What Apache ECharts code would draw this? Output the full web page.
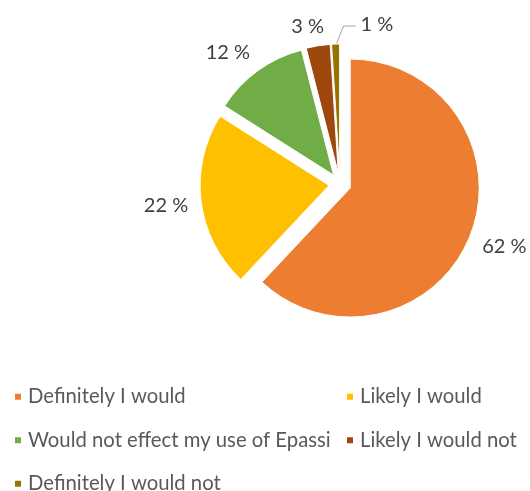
<!DOCTYPE html>
<html>
<head>
<meta charset="utf-8">
<script src="https://cdn.jsdelivr.net/npm/echarts@6/dist/echarts.min.js"></script>
<style>
  html, body { margin: 0; padding: 0; background: #fff; }
  #chart { width: 530px; height: 491px; }
</style>
</head>
<body>
<div id="chart"></div>
<script>
// Survey answers and their shares (percent)
const categories = [
  'Definitely I would',
  'Likely I would',
  'Would not effect my use of Epassi',
  'Likely I would not',
  'Definitely I would not'
];
const shares = [62, 22, 12, 3, 1];
const colors = ['#ED7D31', '#FFC000', '#70AD47', '#9E480E', '#997300'];

// Only the thinnest slice shows a leader line
const leaderIndex = 4;

const chart = echarts.init(document.getElementById('chart'));

const data = categories.map((name, i) => ({
  name: name,
  value: shares[i],
  selected: true,
  itemStyle: { color: colors[i] },
  labelLine: { lineStyle: { opacity: i === leaderIndex ? 1 : 0 } }
}));

const clamp = (v) => Math.max(-1, Math.min(1, v));

// Place each label box just outside the rim, leaning towards the
// slice direction: side labels hug the anchor with their near edge,
// top labels sit above it.
function placeLabel(params) {
  const pts = params.labelLinePoints;
  if (!pts) return {};
  const r = params.labelRect;
  const w = r.width, h = r.height;
  // anchor (end of the radial guide) in screen space
  const ax = params.align === 'right' ? r.x + w : (params.align === 'left' ? r.x : r.x + w / 2);
  const ay = r.y + h / 2;
  let ux = pts[1][0] - pts[0][0];
  let uy = pts[1][1] - pts[0][1];
  const len = Math.hypot(ux, uy) || 1;
  ux /= len; uy /= len;
  const curCx = r.x + w / 2, curCy = r.y + h / 2;

  if (params.dataIndex === leaderIndex) {
    const p0 = [pts[0][0], pts[0][1] + 2];
    const p1 = [p0[0] + 8, p0[1] - 20];
    const p2 = [p1[0] + 12, p1[1]];
    // shift relative to the default guide end
    const end = pts[pts.length - 1];
    const ex = p2[0] - end[0];
    const ey = p2[1] - end[1];
    const left = ax + ex + 5;
    const cy = ay + ey - 2;
    return {
      dx: left - r.x,
      dy: cy - curCy,
      labelLinePoints: [p0, p1, p2]
    };
  }
  const cx = ax + (w / 2) * clamp(3.3 * ux);
  const cy = ay + 8 * clamp(2 * uy) + (uy < -0.9 ? 2 : 0);
  return { dx: cx - curCx, dy: cy - curCy };
}

chart.setOption({
  animation: false,
  legend: {
    left: 13,
    top: 380,
    width: 660,
    padding: 0,
    orient: 'horizontal',
    itemWidth: 8,
    itemHeight: 8,
    itemGap: 10,
    icon: 'rect',
    selectedMode: false,
    textStyle: {
      fontFamily: 'Lato',
      fontSize: 20.3,
      color: '#595959',
      width: 307,
      lineHeight: 33.5,
      padding: [0, 0, 0, 1]
    },
    data: categories
  },
  series: [{
    type: 'pie',
    center: [340, 184],
    radius: 129,
    startAngle: 90,
    clockwise: true,
    selectedMode: 'multiple',
    selectedOffset: 11,
    avoidLabelOverlap: false,
    itemStyle: { borderColor: '#fff', borderWidth: 1 },
    emphasis: { disabled: true },
    label: {
      show: true,
      position: 'outside',
      formatter: '{c} %',
      fontFamily: 'Lato',
      fontSize: 20,
      lineHeight: 20,
      color: '#404040',
      distanceToLabelLine: 0
    },
    labelLine: {
      show: true,
      length: 13,
      length2: 0,
      lineStyle: { color: '#A6A6A6', width: 1 }
    },
    labelLayout: placeLabel,
    data: data
  }]
});
</script>
</body>
</html>
